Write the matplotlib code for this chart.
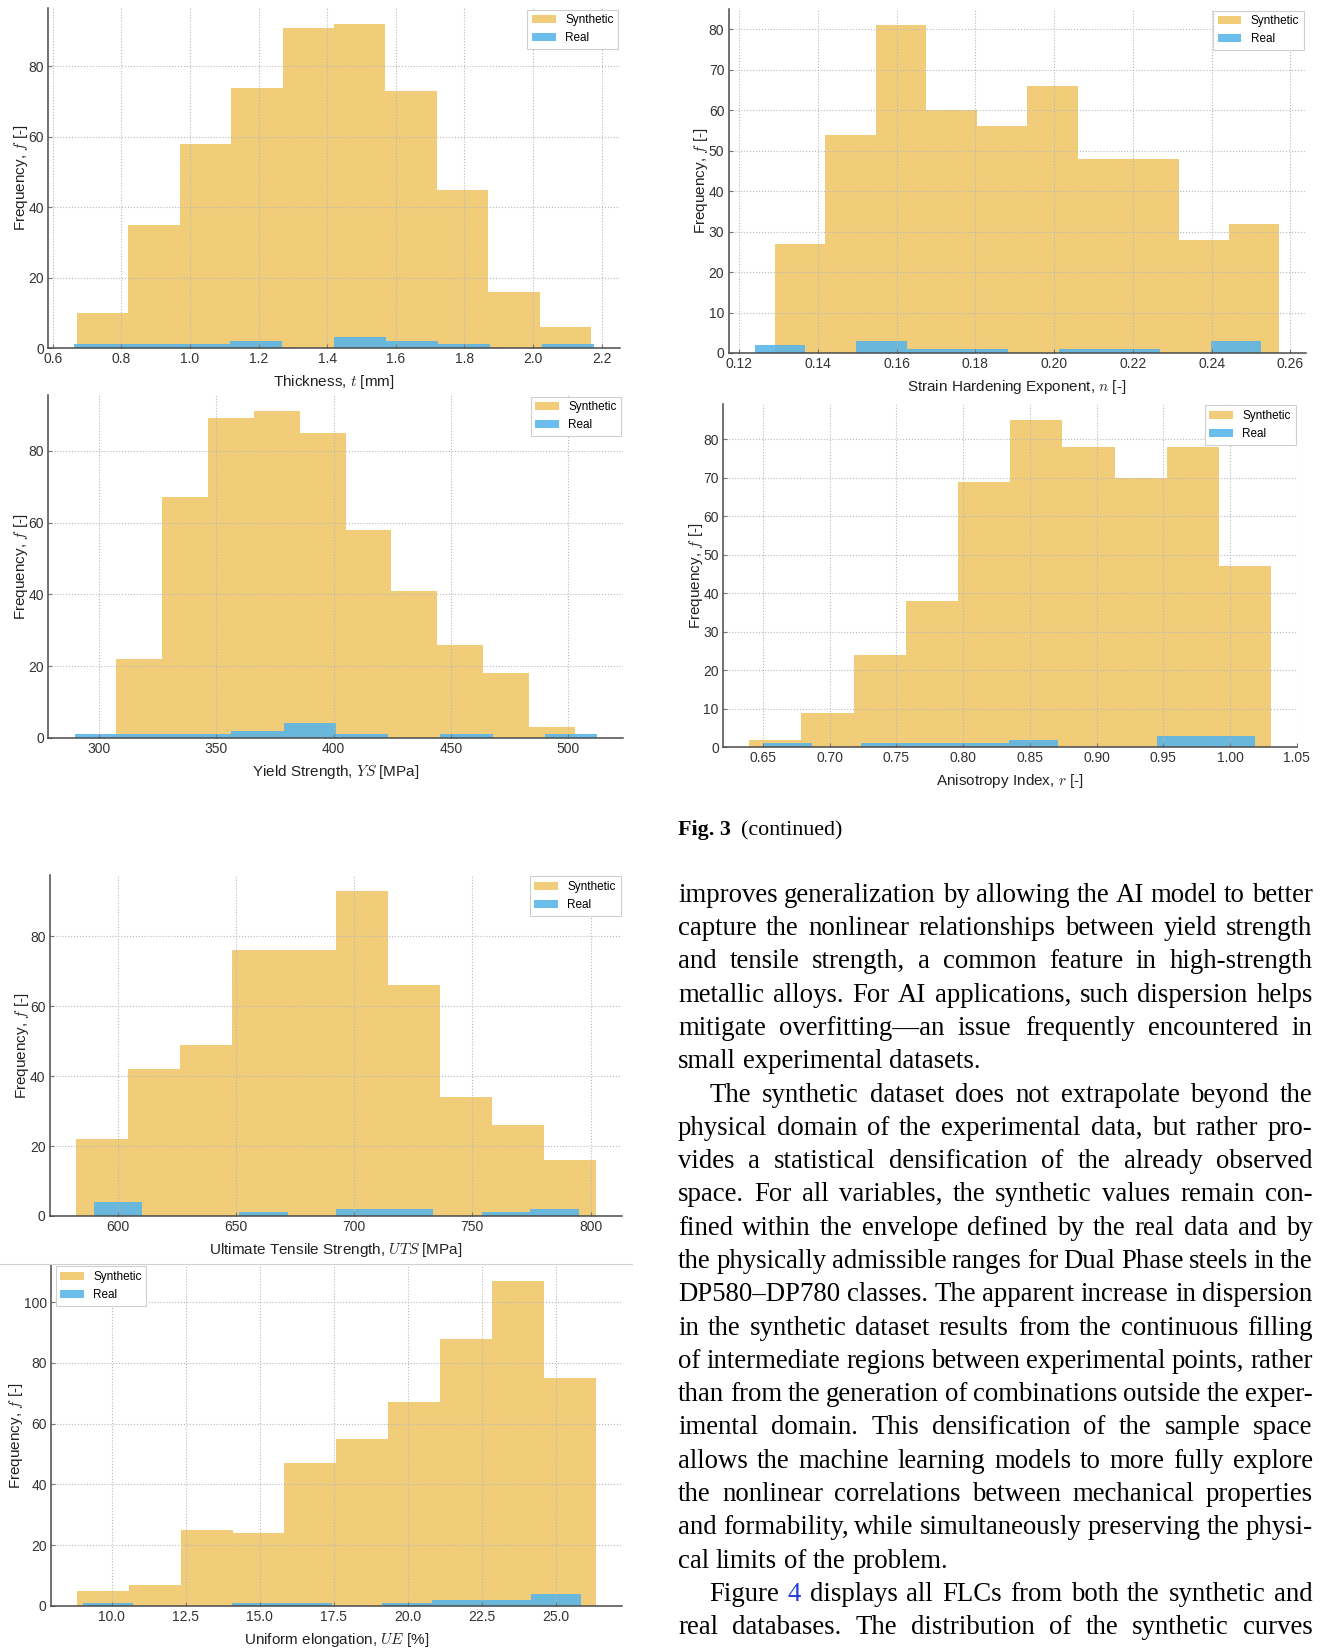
#!/usr/bin/env python3

import numpy as np
import matplotlib
matplotlib.use('Agg')
import matplotlib.pyplot as plt
from matplotlib.lines import Line2D

# ---- histogram data (bin range + counts), 500 synthetic / 12 real samples ----
thick_syn_range = (0.67, 2.17)
thick_syn = [10, 35, 58, 74, 91, 92, 73, 45, 16, 6]
thick_real_range = (0.662, 2.178)
thick_real = [1, 1, 1, 2, 0, 3, 2, 1, 0, 1]

n_syn_range = (0.1291, 0.2572)
n_syn = [27, 54, 81, 60, 56, 66, 48, 48, 28, 32]
n_real_range = (0.1240, 0.2526)
n_real = [2, 0, 3, 1, 1, 0, 1, 1, 0, 3]

ys_syn_range = (307.3, 502.8)
ys_syn = [22, 67, 89, 91, 85, 58, 41, 26, 18, 3]
ys_real_range = (289.6, 512.2)
ys_real = [1, 1, 1, 2, 4, 1, 0, 1, 0, 1]

r_syn_range = (0.6396, 1.0308)
r_syn = [2, 9, 24, 38, 69, 85, 78, 70, 78, 47]
r_real_range = (0.650, 1.019)
r_real = [1, 0, 1, 1, 1, 2, 0, 0, 3, 3]

uts_syn_range = (582.2, 802.4)
uts_syn = [22, 42, 49, 76, 76, 93, 66, 34, 26, 16]
uts_real_range = (589.8, 795.0)
uts_real = [4, 0, 0, 1, 0, 2, 2, 0, 1, 2]

ue_syn_range = (8.83, 26.35)
ue_syn = [5, 7, 25, 24, 47, 55, 67, 88, 107, 75]
ue_real_range = (9.04, 25.84)
ue_real = [1, 0, 0, 1, 1, 0, 1, 2, 2, 4]

caption_bold = 'Fig. 3'
caption_rest = '(continued)'

body_lines = [
    'improves generalization by allowing the AI model to better',
    'capture the nonlinear relationships between yield strength',
    'and tensile strength, a common feature in high-strength',
    'metallic alloys. For AI applications, such dispersion helps',
    'mitigate overfitting\u2014an issue frequently encountered in',
    'small experimental datasets.',
    'The synthetic dataset does not extrapolate beyond the',
    'physical domain of the experimental data, but rather pro-',
    'vides a statistical densification of the already observed',
    'space. For all variables, the synthetic values remain con-',
    'fined within the envelope defined by the real data and by',
    'the physically admissible ranges for Dual Phase steels in the',
    'DP580\u2013DP780 classes. The apparent increase in dispersion',
    'in the synthetic dataset results from the continuous filling',
    'of intermediate regions between experimental points, rather',
    'than from the generation of combinations outside the exper-',
    'imental domain. This densification of the sample space',
    'allows the machine learning models to more fully explore',
    'the nonlinear correlations between mechanical properties',
    'and formability, while simultaneously preserving the physi-',
    'cal limits of the problem.',
    'Figure 4 displays all FLCs from both the synthetic and',
    'real databases. The distribution of the synthetic curves',
]
para_start = [6, 21]
para_end = [5, 20]

SYN_COLOR = '#E69F00'
REAL_COLOR = '#56B4E9'

W, H = 1322, 1648
plt.rcParams['font.family'] = ['Liberation Sans', 'DejaVu Sans']
plt.rcParams['mathtext.fontset'] = 'cm'

fig = plt.figure(figsize=(W / 100, H / 100), dpi=100)


def px_axes(left, right, top, bottom):
    return fig.add_axes([left / W, 1 - bottom / H, (right - left) / W,
                         (bottom - top) / H])


def draw_hist(ax, syn_range, syn, real_range, real, xlabel, xstep, ystep,
              loc='upper right'):
    syn_edges = np.linspace(syn_range[0], syn_range[1], len(syn) + 1)
    real_edges = np.linspace(real_range[0], real_range[1], len(real) + 1)
    ax.hist(syn_edges[:-1], bins=syn_edges, weights=syn, color=SYN_COLOR,
            alpha=0.52, label='Synthetic')
    ax.hist(real_edges[:-1], bins=real_edges, weights=real, color=REAL_COLOR,
            alpha=0.88, label='Real')
    ax.xaxis.set_major_locator(matplotlib.ticker.MultipleLocator(xstep))
    ax.yaxis.set_major_locator(matplotlib.ticker.MultipleLocator(ystep))
    ax.grid(True, linestyle=':', color='#b8b8b8', linewidth=0.8)
    for s in ['top', 'right']:
        ax.spines[s].set_visible(False)
    for s in ['left', 'bottom']:
        ax.spines[s].set_color('#4a4a4a')
        ax.spines[s].set_linewidth(1.1)
    ax.tick_params(direction='in', length=3, color='#777777', labelsize=10,
                   labelcolor='#333333', pad=3)
    ax.set_xlabel(xlabel, fontsize=11, color='#222222', labelpad=5)
    ax.set_ylabel('Frequency, $f$ [-]', fontsize=11, color='#222222',
                  labelpad=-1)
    if loc == 'upper right':
        anchor = (1.0, 1.0)
    else:
        anchor = (0.005, 1.0)
    leg = ax.legend(loc=loc, bbox_to_anchor=anchor, borderaxespad=0.15,
                    fontsize=8.5, fancybox=False, framealpha=1,
                    edgecolor='#d0d0d0')
    leg.get_frame().set_linewidth(0.8)


ax1 = px_axes(48, 620, 8, 348)
draw_hist(ax1, thick_syn_range, thick_syn, thick_real_range, thick_real,
          'Thickness, $t$ [mm]', 0.2, 20)

ax2 = px_axes(728.5, 1305.7, 9, 353)
draw_hist(ax2, n_syn_range, n_syn, n_real_range, n_real,
          'Strain Hardening Exponent, $n$ [-]', 0.02, 10)

ax3 = px_axes(48.4, 623.2, 395, 737.8)
draw_hist(ax3, ys_syn_range, ys_syn, ys_real_range, ys_real,
          'Yield Strength, $YS$ [MPa]', 50, 20)

ax4 = px_axes(723, 1297.3, 403.6, 747.2)
draw_hist(ax4, r_syn_range, r_syn, r_real_range, r_real,
          'Anisotropy Index, $r$ [-]', 0.05, 10)

ax5 = px_axes(49.6, 622.3, 874.7, 1215.9)
draw_hist(ax5, uts_syn_range, uts_syn, uts_real_range, uts_real,
          'Ultimate Tensile Strength, $UTS$ [MPa]', 50, 20)

ax6 = px_axes(50.9, 621.9, 1264.7, 1605.8)
draw_hist(ax6, ue_syn_range, ue_syn, ue_real_range, ue_real,
          'Uniform elongation, $UE$ [%]', 2.5, 20, loc='upper left')

# thin frame line above the last panel image
fig.add_artist(Line2D([0, 632 / W], [1 - 1264 / H] * 2,
                      transform=fig.transFigure, color='#d0d0d0', lw=0.8))

# ---- caption and body text (justified by hand) ----
renderer = fig.canvas.get_renderer()
serif = 'Liberation Serif'

cap = fig.text(678 / W, 1 - 835.5 / H, caption_bold, fontsize=15.8,
               family=serif, weight='bold', va='baseline')
cw = cap.get_window_extent(renderer).width
fig.text((678 + cw + 10) / W, 1 - 835.5 / H, caption_rest, fontsize=15.8,
         family=serif, va='baseline')

body_size = 19.3
x_left, x_right = 678.0, 1312.6
base0, step = 901.7, 33.3
indent = 31.5
space_px = body_size * 0.25 * 100 / 72

for i, line in enumerate(body_lines):
    y = 1 - (base0 + i * step) / H
    words = line.split(' ')
    texts = []
    for w in words:
        col = '#1f3fd8' if w == '4' else 'black'
        texts.append(fig.text(0, y, w, fontsize=body_size, family=serif,
                              va='baseline', color=col))
    widths = [t.get_window_extent(renderer).width for t in texts]
    x0 = x_left + (indent if i in para_start else 0)
    if i in para_end or len(words) == 1:
        gap = space_px
    else:
        gap = (x_right - x0 - sum(widths)) / (len(words) - 1)
    x = x0
    for t, wdt in zip(texts, widths):
        t.set_x(x / W)
        x += wdt + gap

fig.savefig('out.png', dpi=100)
